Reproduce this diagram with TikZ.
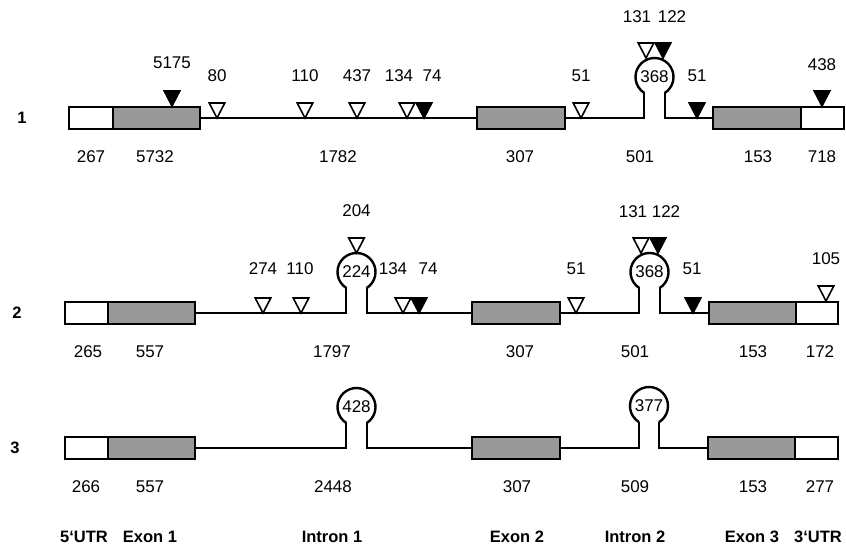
\documentclass[tikz,border=0pt]{standalone}
\usepackage{fontspec}
\setmainfont{Liberation Sans}
\definecolor{exongray}{gray}{0.6}
\newcommand\lab{\fontsize{17}{19}\selectfont}
\newcommand\blab{\fontsize{16.5}{19}\selectfont\bfseries}
\newcommand\tridown[3]{\draw[#1] (#2-7.8,#3+15) -- (#2+7.8,#3+15) -- (#2,#3) -- cycle;}
\tikzset{
  lbl/.style={font=\lab, inner sep=0},
  blbl/.style={font=\blab, inner sep=0},
  utrin/.style={draw, line width=1.4, fill=white, minimum height=22, inner sep=0, outer sep=0},
  exonin/.style={utrin, fill=exongray},
  boxb/.style={draw, line width=2.6},
  exonbox/.style={exonin, line width=2.6},
  intron/.style={line width=2},
  loopc/.style={circle, minimum size=38, inner sep=0, outer sep=0, font=\lab},
  loopline/.style={line width=2.4},
  wtri/.style={draw, line width=1.6, fill=white, line join=miter},
  btri/.style={wtri, fill=black},
}
\begin{document}
\begin{tikzpicture}[x=1pt,y=1pt]
\useasboundingbox (0,0) rectangle (846,548);

% ---------------- Row 1 ----------------
\begin{scope}[yshift=430]
\node[blbl] (r1) at (22,0) {1};
\node[loopc] (c1a) at (654.5,41) {368};
\node[utrin, minimum width=44] (u5a) at (91,0) {};
\node[exonin, minimum width=87] (e1a) at (156.5,0) {};
\node[exonbox, minimum width=88] (e2a) at (521,0) {};
\node[exonin, minimum width=88] (e3a) at (757,0) {};
\node[utrin, minimum width=43] (u3a) at (822.5,0) {};
\draw[intron] (e1a.east) -- (e2a.west);
\draw[intron] (e2a.east) -- (c1a.-122 |- e2a.east) -- (c1a.-122);
\draw[intron] (c1a.-58) -- (c1a.-58 |- e3a.west) -- (e3a.west);
\draw[loopline] (c1a.-58) arc[start angle=-58, end angle=238, radius=19];
\draw[boxb] (u5a.north west) rectangle (e1a.south east);
\draw[boxb] (e3a.north west) rectangle (u3a.south east);
\tridown{btri}{172}{12}
\tridown{wtri}{217}{0}
\tridown{wtri}{305}{0}
\tridown{wtri}{357}{0}
\tridown{wtri}{407}{0}
\tridown{btri}{424}{0}
\tridown{wtri}{581}{0}
\tridown{wtri}{646}{60}
\tridown{btri}{663}{60}
\tridown{btri}{697}{0}
\tridown{btri}{822}{12}
\node[lbl] (a5175) at (172,55) {5175};
\node[lbl] (a80) at (217,42) {80};
\node[lbl] (a110) at (305,42) {110};
\node[lbl] (a437) at (357,42) {437};
\node[lbl] (a134) at (399,42) {134};
\node[lbl] (a74) at (432,42) {74};
\node[lbl] (a51) at (581,42) {51};
\node[lbl] (a131) at (637,101) {131};
\node[lbl] (a122) at (672,101) {122};
\node[lbl] (a51b) at (697,42) {51};
\node[lbl] (a438) at (822,53) {438};
\node[lbl] (b267) at (91,-39) {267};
\node[lbl] (b5732) at (155,-39) {5732};
\node[lbl] (b1782) at (338,-39) {1782};
\node[lbl] (b307) at (520,-39) {307};
\node[lbl] (b501) at (640,-39) {501};
\node[lbl] (b153) at (758,-39) {153};
\node[lbl] (b718) at (822,-39) {718};
\end{scope}

% ---------------- Row 2 ----------------
\begin{scope}[yshift=235]
\node[blbl] (r2) at (17,0) {2};
\node[loopc] (c1b) at (356.5,41) {224};
\node[loopc] (c2b) at (649.5,41) {368};
\node[utrin, minimum width=43] (u5b) at (86.5,0) {};
\node[exonin, minimum width=87] (e1b) at (151.5,0) {};
\node[exonbox, minimum width=88] (e2b) at (516,0) {};
\node[exonin, minimum width=87] (e3b) at (752.5,0) {};
\node[utrin, minimum width=42] (u3b) at (817,0) {};
\draw[intron] (e1b.east) -- (c1b.-122 |- e1b.east) -- (c1b.-122);
\draw[intron] (c1b.-58) -- (c1b.-58 |- e2b.west) -- (e2b.west);
\draw[loopline] (c1b.-58) arc[start angle=-58, end angle=238, radius=19];
\draw[intron] (e2b.east) -- (c2b.-122 |- e2b.east) -- (c2b.-122);
\draw[intron] (c2b.-58) -- (c2b.-58 |- e3b.west) -- (e3b.west);
\draw[loopline] (c2b.-58) arc[start angle=-58, end angle=238, radius=19];
\draw[boxb] (u5b.north west) rectangle (e1b.south east);
\draw[boxb] (e3b.north west) rectangle (u3b.south east);
\tridown{wtri}{263}{0}
\tridown{wtri}{301}{0}
\tridown{wtri}{356.5}{60}
\tridown{wtri}{403}{0}
\tridown{btri}{419}{0}
\tridown{wtri}{576}{0}
\tridown{wtri}{641}{60}
\tridown{btri}{658}{60}
\tridown{btri}{693}{0}
\tridown{wtri}{826}{12}
\node[lbl] (d274) at (263,44) {274};
\node[lbl] (d110) at (300,44) {110};
\node[lbl] (d204) at (356.5,102) {204};
\node[lbl] (d134) at (393,44) {134};
\node[lbl] (d74) at (428,44) {74};
\node[lbl] (d51) at (576,44) {51};
\node[lbl] (d131) at (633,101) {131};
\node[lbl] (d122) at (666,101) {122};
\node[lbl] (d51b) at (692,44) {51};
\node[lbl] (d105) at (826,54) {105};
\node[lbl] (f265) at (88,-39) {265};
\node[lbl] (f557) at (150,-39) {557};
\node[lbl] (f1797) at (332,-39) {1797};
\node[lbl] (f307) at (520,-39) {307};
\node[lbl] (f501) at (635,-39) {501};
\node[lbl] (f153) at (753,-39) {153};
\node[lbl] (f172) at (820,-39) {172};
\end{scope}

% ---------------- Row 3 ----------------
\begin{scope}[yshift=100]
\node[blbl] (r3) at (15,0) {3};
\node[loopc] (c1c) at (356.5,41) {428};
\node[loopc] (c2c) at (649,42) {377};
\node[utrin, minimum width=43] (u5c) at (86.5,0) {};
\node[exonin, minimum width=87] (e1c) at (151.5,0) {};
\node[exonbox, minimum width=88] (e2c) at (516,0) {};
\node[exonin, minimum width=87] (e3c) at (751.5,0) {};
\node[utrin, minimum width=43] (u3c) at (816.5,0) {};
\draw[intron] (e1c.east) -- (c1c.-122 |- e1c.east) -- (c1c.-122);
\draw[intron] (c1c.-58) -- (c1c.-58 |- e2c.west) -- (e2c.west);
\draw[loopline] (c1c.-58) arc[start angle=-58, end angle=238, radius=19];
\draw[intron] (e2c.east) -- (c2c.-122 |- e2c.east) -- (c2c.-122);
\draw[intron] (c2c.-58) -- (c2c.-58 |- e3c.west) -- (e3c.west);
\draw[loopline] (c2c.-58) arc[start angle=-58, end angle=238, radius=19];
\draw[boxb] (u5c.north west) rectangle (e1c.south east);
\draw[boxb] (e3c.north west) rectangle (u3c.south east);
\node[lbl] (g266) at (86,-39) {266};
\node[lbl] (g557) at (150,-39) {557};
\node[lbl] (g2448) at (333,-39) {2448};
\node[lbl] (g307) at (517,-39) {307};
\node[lbl] (g509) at (635,-39) {509};
\node[lbl] (g153) at (753,-39) {153};
\node[lbl] (g277) at (820,-39) {277};
\end{scope}

% ---------------- Legend ----------------
\node[blbl] (k5utr) at (84,11) {5‘UTR};
\node[blbl] (kex1) at (150,11) {Exon 1};
\node[blbl] (kin1) at (332,11) {Intron 1};
\node[blbl] (kex2) at (517,11) {Exon 2};
\node[blbl] (kin2) at (635,11) {Intron 2};
\node[blbl] (kex3) at (752,11) {Exon 3};
\node[blbl] (k3utr) at (818,11) {3‘UTR};
\end{tikzpicture}
\end{document}
